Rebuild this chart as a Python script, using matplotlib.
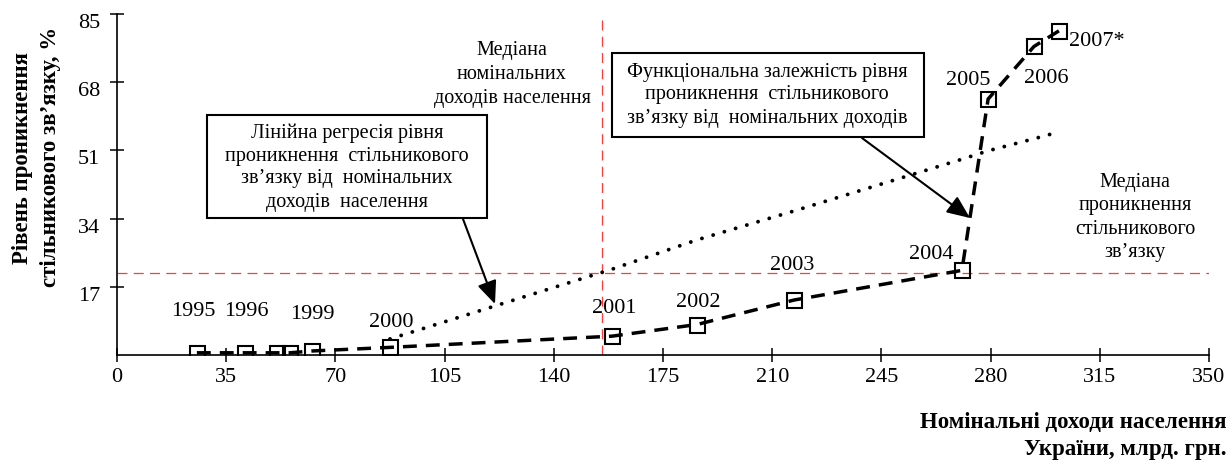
import matplotlib
matplotlib.use('Agg')
from matplotlib import pyplot as plt
from matplotlib.patches import Rectangle

plt.rcParams['font.family'] = ['Liberation Serif', 'DejaVu Serif']

# дані: номінальні доходи (млрд. грн.) і рівень проникнення (%)
years = ['1995', '1996', '1997', '1998', '1999', '2000', '2001',
         '2002', '2003', '2004', '2005', '2006', '2007*']
income = [25.6, 41.0, 51.3, 55.4, 62.5, 87.5, 158.7,
          185.9, 217.0, 270.8, 279.2, 293.9, 301.9]
penetration = [0.55, 0.55, 0.55, 0.55, 1.0, 1.9, 4.7,
               7.6, 13.7, 21.1, 63.8, 76.9, 80.8]
# лінійна регресія (2000-2007)
regr_income = income[5:]
regr_values = [4.0, 21.4, 28.7, 35.9, 48.8, 50.9, 53.9, 55.6]
median_income = 155.4
median_penetration = 20.5
x_ticks = [0, 35, 70, 105, 140, 175, 210, 245, 280, 315, 350]
y_ticks = [17, 34, 51, 68, 85]

# зсув підписів років від точок, пікселі
label_offsets = {
    '1995': (-4, 41), '1996': (1, 41), '1999': (0, 36), '2000': (1, 25),
    '2001': (2, 28), '2002': (1, 22), '2003': (-2, 35), '2004': (-31, 16),
    '2005': (-20, 19), '2006': (12, -32), '2007*': (38, -11),
}

W, H = 1230, 463
fig = plt.figure(figsize=(W / 100, H / 100), dpi=100)
ax = fig.add_axes([117 / W, 1 - 355 / H, (1209 - 117) / W, (355 - 14) / H])
ax.set_xlim(0, 350)
ax.set_ylim(0, 85)

red = '#ff3b3b'
ax.axvline(median_income, color=red, lw=0.9, linestyle=(0, (8, 5)), zorder=1)
ax.axhline(median_penetration, color=red, lw=0.9, linestyle=(0, (8, 5)), zorder=1)

ax.plot(regr_income, regr_values, color='black', lw=2.8,
        linestyle=(0, (0.01, 3.0)), dash_capstyle='round', zorder=2)
ax.plot(income, penetration, color='black', lw=2.5, linestyle=(0, (4, 2.6)),
        marker='s', ms=10.8, mfc='none', mec='black', mew=1.5, zorder=3)

for yr, xv, yv in zip(years, income, penetration):
    if yr in label_offsets:
        ax.annotate(yr, (xv, yv), xytext=label_offsets[yr],
                    textcoords='offset pixels', ha='center', va='center',
                    fontsize=16)

for s in ['top', 'right']:
    ax.spines[s].set_visible(False)
for s in ['left', 'bottom']:
    ax.spines[s].set_linewidth(1.2)

ax.set_xticks(x_ticks)
ax.set_yticks(y_ticks)
ax.tick_params(direction='inout', length=10, width=1.1, labelsize=16)
ax.tick_params(axis='x', pad=4)
ax.tick_params(axis='y', pad=7)
for lab in ax.get_yticklabels():
    lab.set_verticalalignment('top')


def px(x, y):
    return x / W, 1 - y / H


def lines_at(lines, cx, y0, step, **kw):
    for i, s in enumerate(lines):
        fig.text(*px(cx, y0 + i * step), s, ha='center', va='center', **kw)


# підписи осей
fig.text(*px(23, 158), 'Рівень проникнення', rotation=90, ha='center',
         va='center', fontsize=16.5, fontweight='bold')
fig.text(*px(51, 157), 'стільникового зв’язку, %', rotation=90, ha='center',
         va='center', fontsize=16.5, fontweight='bold')
fig.text(*px(1227, 422), 'Номінальні доходи населення', ha='right',
         va='center', fontsize=16.5, fontweight='bold')
fig.text(*px(1227, 450), 'України, млрд. грн.', ha='right',
         va='center', fontsize=16.5, fontweight='bold')

# медіани
lines_at(['Медіана', 'номінальних', 'доходів населення'], 512, 51, 23.5, fontsize=14.5)
lines_at(['Медіана', 'проникнення', 'стільникового', 'зв’язку'], 1135, 182, 23.5, fontsize=14.5)

# рамки з поясненнями
fig.add_artist(Rectangle(px(207, 218), (487 - 207) / W, (218 - 115) / H,
                         transform=fig.transFigure, fill=False, lw=1.5, ec='black'))
lines_at(['Лінійна регресія рівня', 'проникнення  стільникового',
          'зв’язку від  номінальних', 'доходів  населення'], 347, 133, 23, fontsize=14.5)
fig.add_artist(Rectangle(px(612, 137), (924 - 612) / W, (137 - 53) / H,
                         transform=fig.transFigure, fill=False, lw=1.5, ec='black'))
lines_at(['Функціональна залежність рівня', 'проникнення  стільникового',
          'зв’язку від  номінальних доходів'], 767, 72, 23, fontsize=14.5)

arrow = dict(arrowstyle='-|>,head_length=0.7,head_width=0.3', mutation_scale=20,
             color='black', lw=1.5, shrinkA=0, shrinkB=0)
ax.annotate('', xy=(495, H - 304), xytext=(463, H - 219),
            xycoords='figure pixels', textcoords='figure pixels', arrowprops=arrow)
ax.annotate('', xy=(970, H - 218), xytext=(862, H - 138),
            xycoords='figure pixels', textcoords='figure pixels', arrowprops=arrow)

fig.savefig('out.png', dpi=100)
